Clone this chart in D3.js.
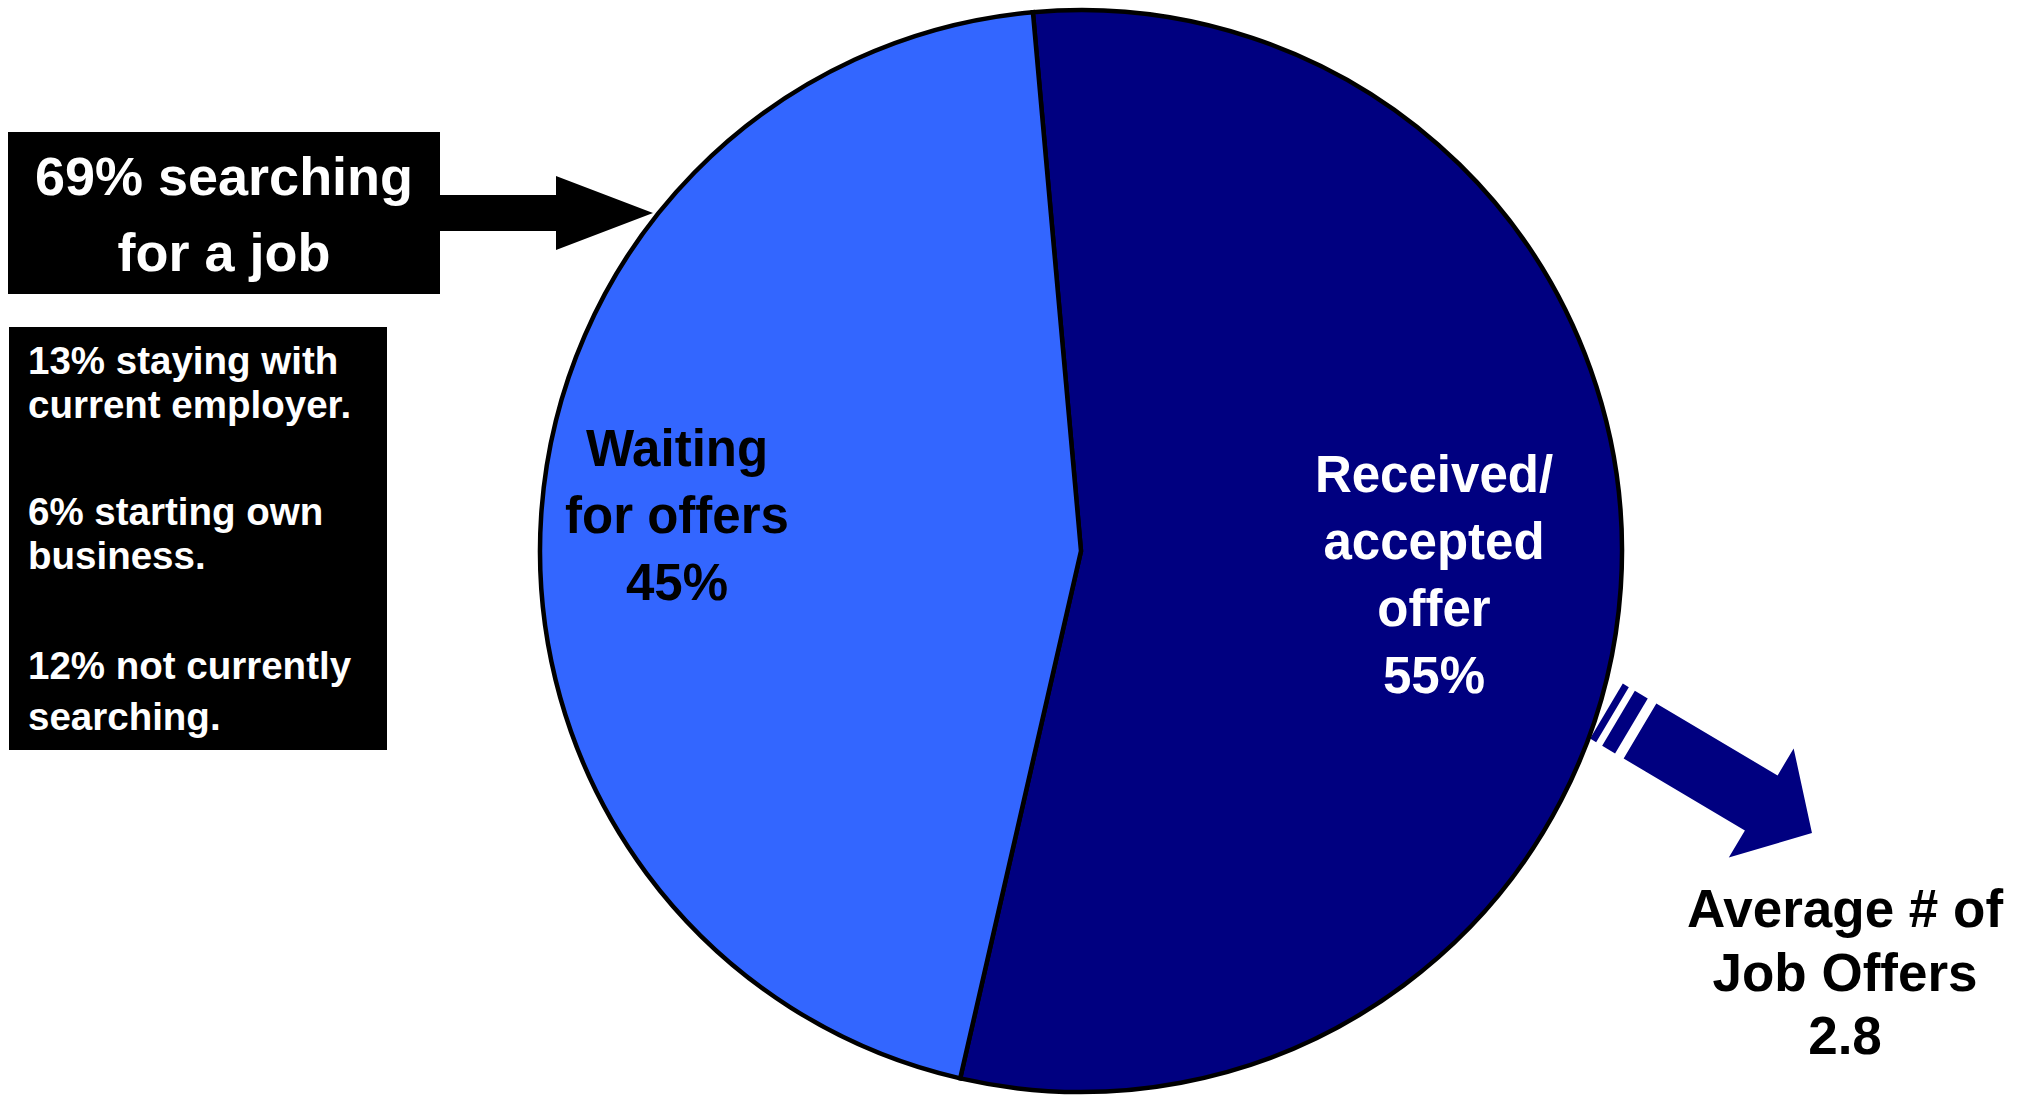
<!DOCTYPE html>
<html>
<head>
<meta charset="utf-8">
<script src="https://cdn.jsdelivr.net/npm/d3@7"></script>
<style>
html,body{margin:0;padding:0;background:#fff;}
svg{display:block;font-family:"Liberation Sans",Arial,Helvetica,sans-serif;font-weight:bold;}
</style>
</head>
<body>
<svg id="chart" width="2023" height="1095"></svg>
<script>
// ---- data ----
const categories = ["Received/ accepted offer", "Waiting for offers"];
const shares = [55, 45];
const sliceColors = ["#000080", "#3366FF"];
const sliceLabelLines = [["Received/", "accepted", "offer", "55%"], ["Waiting", "for offers", "45%"]];
const sliceLabelColors = ["#ffffff", "#000000"];
const searchingLines = ["69% searching", "for a job"];
const otherLines = [["13% staying with", "current employer."], ["6% starting own", "business."], ["12% not currently", "searching."]];
const offersLines = ["Average # of", "Job Offers", "2.8"];

// ---- layout ----
const svg = d3.select("#chart");
const cx = 1081, cy = 551, R = 541;
const startDeg = -5.1;

// right navy striped arrow (drawn first, pie on top)
(function(){
  const ox = 1640, oy = 731, ang = 30.7 * Math.PI / 180;
  const g = svg.append("g").attr("transform", `translate(${ox},${oy}) rotate(${ang*180/Math.PI})`);
  const hw = 32, headHW = 63.5, shaftLen = 141, headLen = 59;
  g.append("path").attr("fill", "#000080")
    .attr("d", d3.line()([[0,-hw],[shaftLen,-hw],[shaftLen,-headHW],[shaftLen+headLen,0],[shaftLen,headHW],[shaftLen,hw],[0,hw]]) + "Z");
  g.append("rect").attr("x", -25).attr("y", -hw).attr("width", 15).attr("height", 2*hw).attr("fill", "#000080");
  g.append("rect").attr("x", -39).attr("y", -hw).attr("width", 7).attr("height", 2*hw).attr("fill", "#000080");
})();

// pie
const pie = d3.pie().sort(null)
  .startAngle(startDeg * Math.PI / 180)
  .endAngle(startDeg * Math.PI / 180 + 2 * Math.PI);
const arcs = pie(shares);
const arc = d3.arc().innerRadius(0).outerRadius(R);
const pg = svg.append("g").attr("transform", `translate(${cx},${cy})`);
pg.selectAll("path.slice").data(arcs).join("path")
  .attr("class", "slice")
  .attr("d", arc)
  .attr("fill", (d, i) => sliceColors[i])
  .attr("stroke", "#000")
  .attr("stroke-width", 4.5)
  .attr("stroke-linejoin", "miter");

// slice labels
const labelPos = [[1434, 492], [677, 466]]; // x center, first baseline
const labelSize = 51, labelStep = 67;
sliceLabelLines.forEach((lines, i) => {
  const t = svg.append("text")
    .attr("text-anchor", "middle")
    .attr("font-size", labelSize)
    .attr("fill", sliceLabelColors[i]);
  lines.forEach((ln, j) => {
    t.append("tspan").attr("x", labelPos[i][0]).attr("y", labelPos[i][1] + j * labelStep).text(ln);
  });
});

// left big box + arrow
svg.append("rect").attr("x", 8).attr("y", 132).attr("width", 432).attr("height", 162).attr("fill", "#000");
svg.append("path").attr("fill", "#000")
  .attr("d", d3.line()([[440,195],[556,195],[556,176],[653,213],[556,250],[556,231],[440,231]]) + "Z");
const st = svg.append("text").attr("text-anchor", "middle").attr("font-size", 54).attr("fill", "#fff");
searchingLines.forEach((ln, j) => st.append("tspan").attr("x", 224).attr("y", 195 + j * 76).text(ln));

// left small box
svg.append("rect").attr("x", 9).attr("y", 327).attr("width", 378).attr("height", 423).attr("fill", "#000");
const otherBaselines = [[374, 418], [525, 569], [679, 730]];
otherLines.forEach((pair, k) => {
  const t = svg.append("text").attr("font-size", 38.5).attr("fill", "#fff");
  pair.forEach((ln, j) => t.append("tspan").attr("x", 28).attr("y", otherBaselines[k][j]).text(ln));
});

// right annotation text
const at = svg.append("text").attr("text-anchor", "middle").attr("font-size", 53).attr("fill", "#000");
offersLines.forEach((ln, j) => at.append("tspan").attr("x", 1845).attr("y", 927 + j * 63.5).text(ln));
</script>
</body>
</html>
